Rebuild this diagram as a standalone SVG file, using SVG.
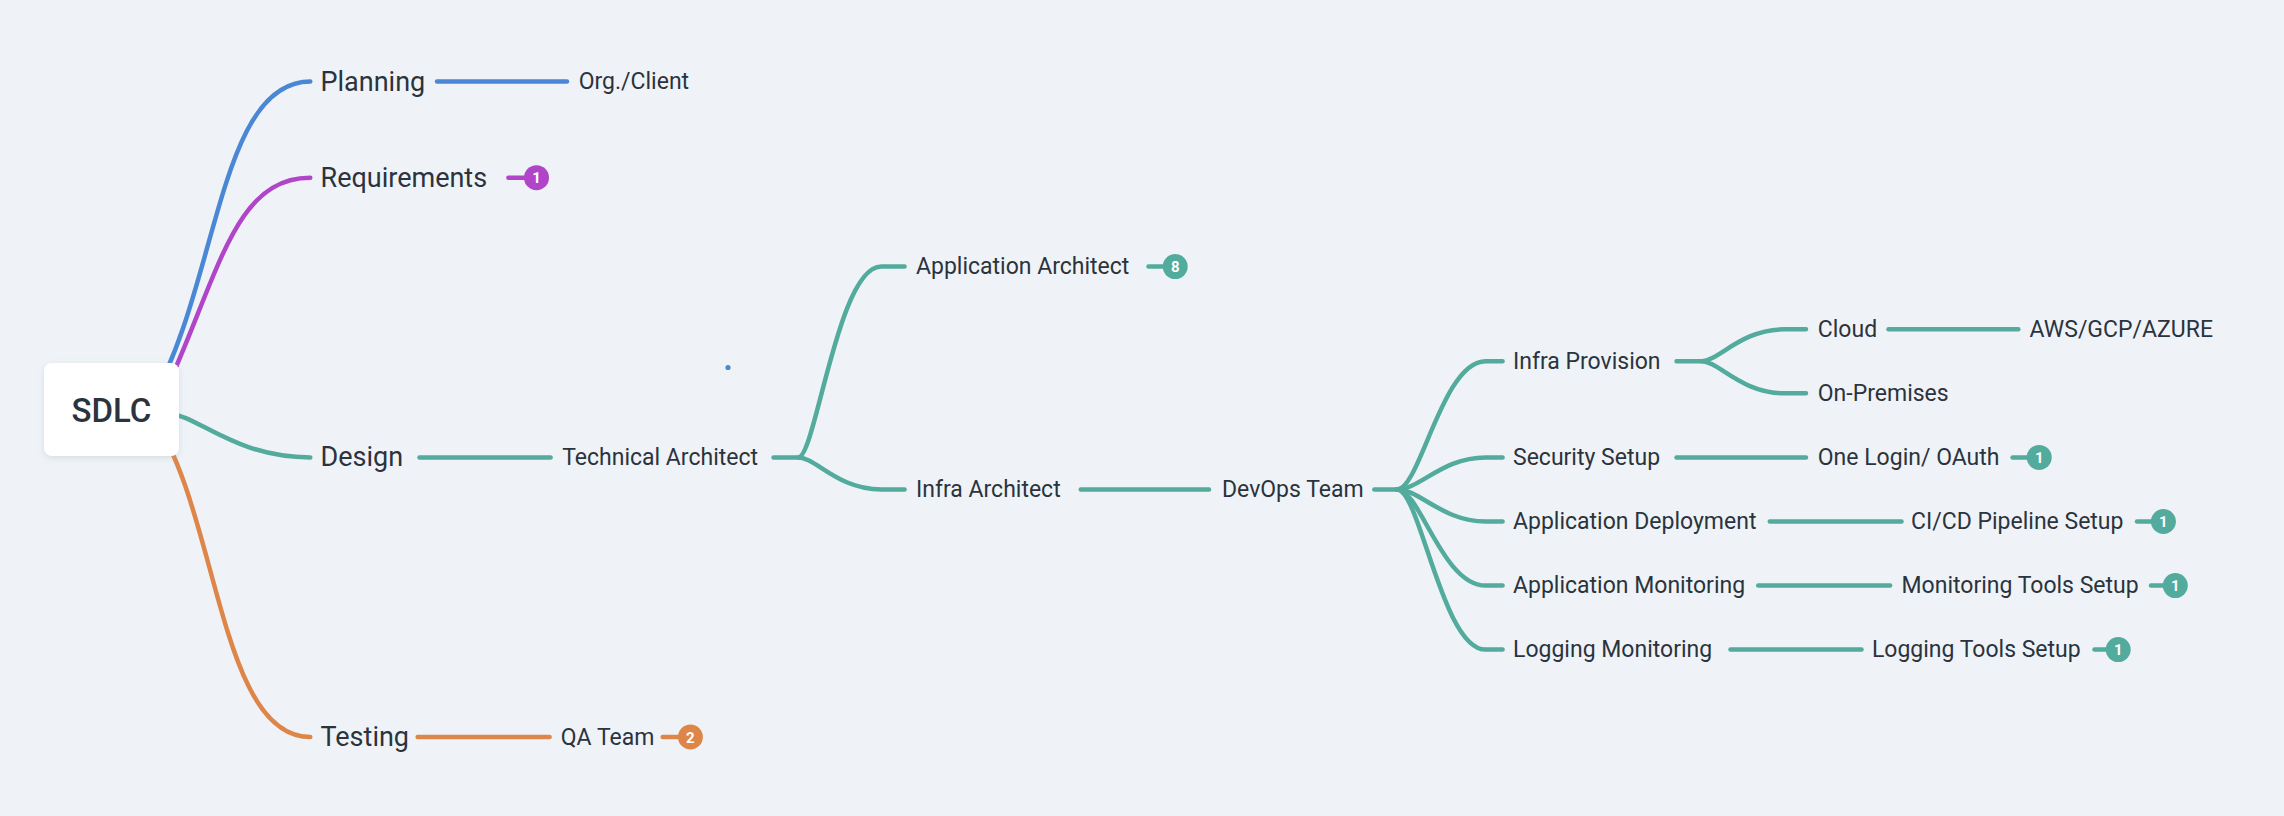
<svg xmlns="http://www.w3.org/2000/svg" width="2284" height="816" viewBox="0 0 2284 816">
<defs>
<style>
.t{font-family:Roboto,"Liberation Sans",sans-serif;fill:#2b333e;dominant-baseline:central}
.main{font-size:27px}
.sub{font-size:23px}
.root{font-size:33px;font-weight:500;text-anchor:middle}
.ln{fill:none;stroke-width:4.5;stroke-linecap:round;stroke-linejoin:round}
.blue{stroke:#4a88d6}
.purple{stroke:#b045c9}
.teal{stroke:#52ab9c}
.orange{stroke:#de8649}
.bt{font-family:Roboto,"Liberation Sans",sans-serif;font-size:15px;font-weight:700;fill:#ffffff;text-anchor:middle;dominant-baseline:central}
</style>
<filter id="sh" x="-20%" y="-20%" width="140%" height="150%">
<feDropShadow dx="0" dy="2" stdDeviation="3" flood-color="#8a99aa" flood-opacity="0.25"/>
</filter>
</defs>
<rect x="0" y="0" width="2284" height="816" fill="#eff3f7"/>
<g id="connectors">
<path class="ln blue" d="M151.5,400.6 C218.5,284 218.5,81.6 310.3,81.6"/>
<path class="ln purple" d="M163.1,396.2 C218.5,276.8 233,177.7 310.3,177.7"/>
<path class="ln teal" d="M167.5,413.7 C196.6,413.7 233,457.4 310.3,457.4"/>
<path class="ln orange" d="M151.5,415.1 C218.5,509.8 218.5,737 310.3,737"/>
<path class="ln blue" d="M437,81.6 H567"/>
<path class="ln purple" d="M508.4,177.7 H530"/>
<path class="ln teal" d="M419.5,457.4 H550.6"/>
<path class="ln orange" d="M417.6,737 H549.6"/>
<path class="ln orange" d="M662.7,737 H685"/>
<path class="ln teal" d="M773.5,457.4 H798.2 C815.7,457.4 837.5,266.6 881.2,266.6 H904.6"/>
<path class="ln teal" d="M798.2,457.4 C815.7,457.4 837.5,489.4 881.2,489.4 H904.6"/>
<path class="ln teal" d="M1148.5,266.6 H1170"/>
<path class="ln teal" d="M1080.8,489.4 H1209"/>
<path class="ln teal" d="M1374.3,489.4 H1397 C1420.2,489.4 1442,361.2 1485.7,361.2 H1502.6"/>
<path class="ln teal" d="M1397,489.4 C1420.2,489.4 1442,457.4 1485.7,457.4 H1502.6"/>
<path class="ln teal" d="M1397,489.4 C1420.2,489.4 1442,521.5 1485.7,521.5 H1502.6"/>
<path class="ln teal" d="M1397,489.4 C1420.2,489.4 1442,585.6 1485.7,585.6 H1502.6"/>
<path class="ln teal" d="M1397,489.4 C1420.2,489.4 1442,649.6 1485.7,649.6 H1502.6"/>
<path class="ln teal" d="M1676.5,361.2 H1701.3 C1718.8,361.2 1740.7,329.3 1784.4,329.3 H1806"/>
<path class="ln teal" d="M1701.3,361.2 C1718.8,361.2 1740.7,393.3 1784.4,393.3 H1806"/>
<path class="ln teal" d="M1888.5,329.3 H2018.3"/>
<path class="ln teal" d="M1676.5,457.4 H1806"/>
<path class="ln teal" d="M2012.6,457.4 H2034"/>
<path class="ln teal" d="M1769.8,521.5 H1901.5"/>
<path class="ln teal" d="M2137,521.5 H2158"/>
<path class="ln teal" d="M1758.2,585.6 H1890.1"/>
<path class="ln teal" d="M2151,585.6 H2170"/>
<path class="ln teal" d="M1730.5,649.6 H1861.5"/>
<path class="ln teal" d="M2094.5,649.6 H2113"/>
</g>
<circle cx="728" cy="367.5" r="2.6" fill="#4a88d6"/>
<g id="n-sdlc">
<rect x="44" y="363" width="135" height="93" rx="8" fill="#ffffff" filter="url(#sh)"/>
<text class="t root" x="111.5" y="410">SDLC</text>
</g>
<g id="n-planning"><text class="t main" x="320.5" y="81.6">Planning</text></g>
<g id="n-org"><text class="t sub" x="578.7" y="81.6">Org./Client</text></g>
<g id="n-requirements"><text class="t main" x="320.5" y="177.7">Requirements</text>
<circle cx="536.5" cy="177.7" r="12.5" fill="#b045c9"/><text class="bt" x="536.5" y="178.2">1</text></g>
<g id="n-design"><text class="t main" x="320.5" y="457.4">Design</text></g>
<g id="n-techarch"><text class="t sub" x="562.2" y="457.4">Technical Architect</text></g>
<g id="n-apparch"><text class="t sub" x="916" y="266.6">Application Architect</text>
<circle cx="1175.2" cy="266.6" r="12.5" fill="#52ab9c"/><text class="bt" x="1175.2" y="267.1">8</text></g>
<g id="n-infraarch"><text class="t sub" x="916" y="489.4">Infra Architect</text></g>
<g id="n-devops"><text class="t sub" x="1222" y="489.4">DevOps Team</text></g>
<g id="n-infraprov"><text class="t sub" x="1513" y="361.2">Infra Provision</text></g>
<g id="n-cloud"><text class="t sub" x="1817.8" y="329.3">Cloud</text></g>
<g id="n-aws"><text class="t sub" x="2029.6" y="329.3">AWS/GCP/AZURE</text></g>
<g id="n-onprem"><text class="t sub" x="1817.8" y="393.3">On-Premises</text></g>
<g id="n-security"><text class="t sub" x="1513" y="457.4">Security Setup</text></g>
<g id="n-onelogin"><text class="t sub" x="1817.8" y="457.4">One Login/ OAuth</text>
<circle cx="2039.2" cy="457.4" r="12.5" fill="#52ab9c"/><text class="bt" x="2039.2" y="457.9">1</text></g>
<g id="n-appdeploy"><text class="t sub" x="1513" y="521.5">Application Deployment</text></g>
<g id="n-cicd"><text class="t sub" x="1911" y="521.5">CI/CD Pipeline Setup</text>
<circle cx="2163.4" cy="521.5" r="12.5" fill="#52ab9c"/><text class="bt" x="2163.4" y="522">1</text></g>
<g id="n-appmon"><text class="t sub" x="1513" y="585.6">Application Monitoring</text></g>
<g id="n-montools"><text class="t sub" x="1901.5" y="585.6">Monitoring Tools Setup</text>
<circle cx="2175.3" cy="585.6" r="12.5" fill="#52ab9c"/><text class="bt" x="2175.3" y="586.1">1</text></g>
<g id="n-logmon"><text class="t sub" x="1513" y="649.6">Logging Monitoring</text></g>
<g id="n-logtools"><text class="t sub" x="1871.9" y="649.6">Logging Tools Setup</text>
<circle cx="2118.2" cy="649.6" r="12.5" fill="#52ab9c"/><text class="bt" x="2118.2" y="650.1">1</text></g>
<g id="n-testing"><text class="t main" x="320.5" y="737">Testing</text></g>
<g id="n-qa"><text class="t sub" x="560.8" y="737">QA Team</text>
<circle cx="690.4" cy="737" r="12.5" fill="#de8649"/><text class="bt" x="690.4" y="737.5">2</text></g>
</svg>
